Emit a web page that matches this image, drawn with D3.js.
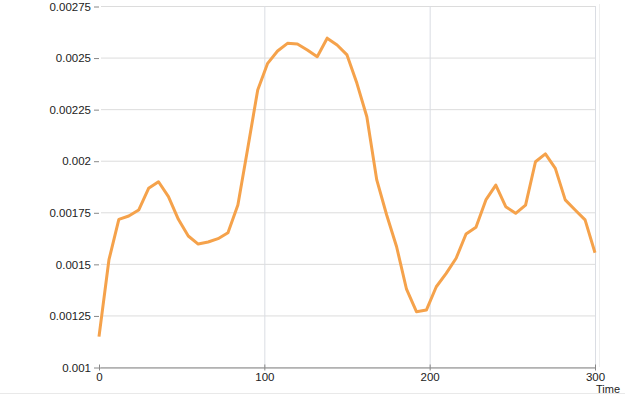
<!DOCTYPE html>
<html>
<head>
<meta charset="utf-8">
<script src="https://cdn.jsdelivr.net/npm/d3@7"></script>
<style>
  body { margin: 0; background: #fff; }
  text { font-family: "Liberation Sans", Arial, sans-serif; fill: #222; }
</style>
</head>
<body>
<svg id="chart"></svg>
<script>
var WIDTH = 625;
var HEIGHT = 394;

// time samples every 6 units
var times = [0, 6, 12, 18, 24, 30, 36, 42, 48, 54, 60, 66, 72, 78, 84, 90, 96,
    102, 108, 114, 120, 126, 132, 138, 144, 150, 156, 162, 168, 174, 180, 186,
    192, 198, 204, 210, 216, 222, 228, 234, 240, 246, 252, 258, 264, 270, 276,
    282, 288, 294, 300];

var values = [0.001147, 0.001519, 0.001716, 0.001732, 0.001761, 0.001866,
    0.001898, 0.001826, 0.001716, 0.001635, 0.001596, 0.001606, 0.001622,
    0.001651, 0.001785, 0.002062, 0.002343, 0.002472, 0.002532, 0.002569,
    0.002566, 0.002537, 0.002504, 0.002594, 0.002561, 0.002513, 0.002375,
    0.002213, 0.001907, 0.001737, 0.001583, 0.001377, 0.001268, 0.001276,
    0.001389, 0.001454, 0.001527, 0.001645, 0.001677, 0.00181, 0.001882,
    0.001777, 0.001745, 0.001785, 0.001995, 0.002033, 0.001963, 0.00181,
    0.001761, 0.001713, 0.001554];

var xTicks = [0, 100, 200, 300];
var yTicks = [0.001, 0.00125, 0.0015, 0.00175, 0.002, 0.00225, 0.0025, 0.00275];
var yTickLabels = ['0.001', '0.00125', '0.0015', '0.00175', '0.002', '0.00225', '0.0025', '0.00275'];

var plotLeft = 99, plotRight = 595, plotTop = 6, plotBottom = 367;

var xScale = d3.scaleLinear().domain([0, 300]).range([plotLeft, plotRight]);
var yScale = d3.scaleLinear().domain([0.001, 0.00275]).range([plotBottom, plotTop]);

var svg = d3.select('#chart')
    .attr('width', WIDTH)
    .attr('height', HEIGHT);

// horizontal grid
svg.append('g')
    .selectAll('line')
    .data(yTicks)
    .enter()
    .append('line')
    .attr('x1', plotLeft + 2)
    .attr('x2', plotRight)
    .attr('y1', function(d){ return yScale(d) + 0.5; })
    .attr('y2', function(d){ return yScale(d) + 0.5; })
    .attr('stroke', '#dcdcdc');

// vertical grid
svg.append('g')
    .selectAll('line')
    .data(xTicks.slice(1))
    .enter()
    .append('line')
    .attr('x1', function(d){ return xScale(d) + 0.5; })
    .attr('x2', function(d){ return xScale(d) + 0.5; })
    .attr('y1', plotTop)
    .attr('y2', plotBottom)
    .attr('stroke', '#dadde3');

svg.append('line')
    .attr('x1', plotRight + 4.5).attr('x2', plotRight + 4.5)
    .attr('y1', plotTop - 2).attr('y2', plotBottom)
    .attr('stroke', '#efefef');

var leftAxis = d3.axisLeft(yScale)
    .tickValues(yTicks)
    .tickSize(5)
    .tickPadding(3)
    .tickFormat(function(d, i){ return yTickLabels[i]; });

var yAxis = svg.append('g')
    .attr('transform', 'translate(' + plotLeft + ',0.5)')
    .call(leftAxis);
yAxis.select('.domain').remove();
yAxis.selectAll('line').attr('stroke', '#888');
yAxis.selectAll('text').style('font-size', '11.5px');

var bottomAxis = d3.axisBottom(xScale)
    .tickValues(xTicks)
    .tickSizeInner(3)
    .tickSizeOuter(0)
    .tickPadding(2);

var xAxis = svg.append('g')
    .attr('transform', 'translate(0,' + (plotBottom + 0.5) + ')')
    .call(bottomAxis);
xAxis.select('.domain').attr('stroke', '#888');
xAxis.selectAll('line').attr('stroke', '#888').attr('y1', -3);
xAxis.selectAll('text').style('font-size', '11.5px');

var line = d3.line()
    .x(function(d, i){ return xScale(times[i]); })
    .y(function(d){ return yScale(d); });

svg.append('path')
    .datum(values)
    .attr('d', line)
    .attr('fill', 'none')
    .attr('stroke', '#f5a24b')
    .attr('stroke-width', 3)
    .attr('stroke-linejoin', 'round');

svg.append('text')
    .attr('x', 596)
    .attr('y', 392.5)
    .style('font-size', '11px')
    .text('Time');

svg.append('rect')
    .attr('x', 0).attr('y', 393)
    .attr('width', WIDTH).attr('height', 1)
    .attr('fill', '#e9e9e9');
</script>
</body>
</html>
